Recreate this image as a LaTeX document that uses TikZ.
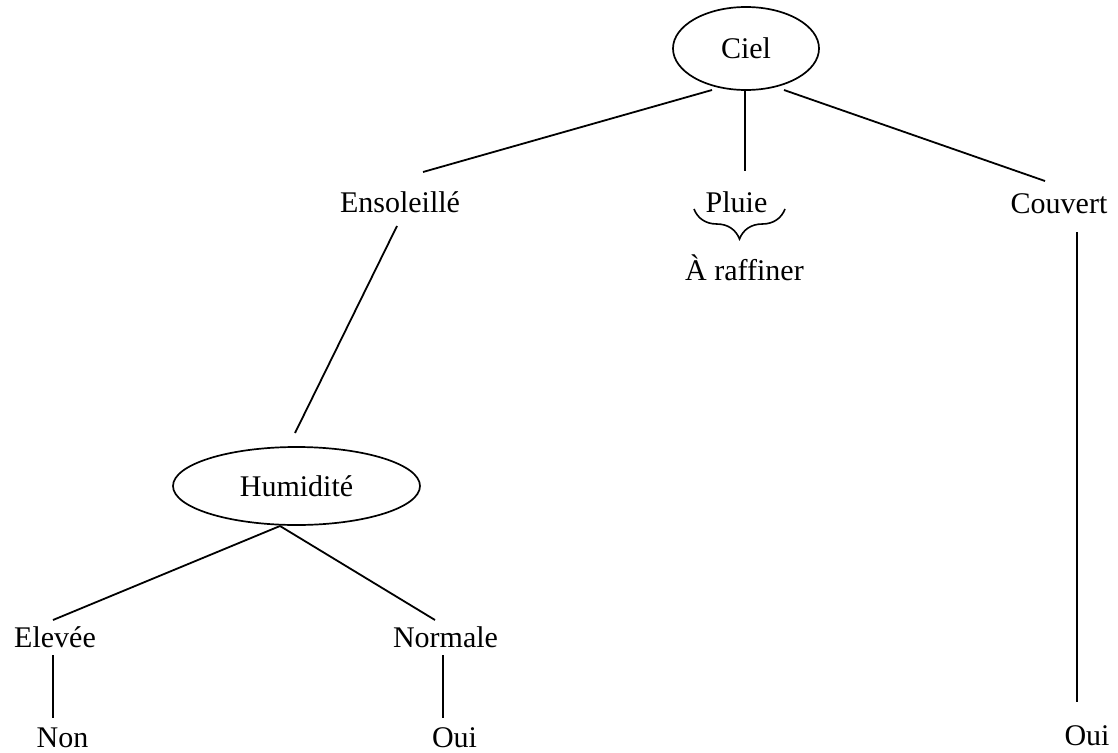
\documentclass[tikz,border=0pt]{standalone}
\usepackage{fontspec}
\setmainfont{Liberation Serif}
\usetikzlibrary{shapes.geometric,decorations.pathreplacing}
\begin{document}
\begin{tikzpicture}[x=1pt,y=-1pt,line width=1.7pt,
  lbl/.style={font=\fontsize{30}{36}\selectfont,inner sep=0pt,anchor=base},
  oval/.style={ellipse,draw,inner sep=0pt,font=\fontsize{30}{36}\selectfont},
  edge/.style={draw,line width=1.8pt}]
\useasboundingbox (0,0) rectangle (1118,752);
% decision nodes
\node[oval,minimum width=146pt,minimum height=83pt] (ciel) at (746,48.5) {Ciel};
\node[oval,minimum width=247pt,minimum height=78pt] (hum) at (296.5,486) {Humidité};
% labels
\node[lbl] (ens) at (400,212) {Ensoleillé};
\node[lbl] (pluie) at (736.5,212) {Pluie};
\node[lbl] (couv) at (1059,213) {Couvert};
\node[lbl] (raff) at (744.5,280) {À raffiner};
\node[lbl] (elev) at (55,647) {Elevée};
\node[lbl] (norm) at (445.5,647) {Normale};
\node[lbl] (non) at (62.5,747) {Non};
\node[lbl] (oui1) at (454.5,747) {Oui};
\node[lbl] (oui2) at (1087,745) {Oui};
% connectors
\path[edge] ([shift={(-34,41.5)}]ciel.center) -- ([shift={(23,-40)}]ens.base);
\path[edge] ([shift={(-1,41.5)}]ciel.center) -- ([shift={(8.5,-41)}]pluie.base);
\path[edge] ([shift={(38,41.5)}]ciel.center) -- ([shift={(-14,-32)}]couv.base);
\path[edge] ([shift={(-3,14)}]ens.base) -- ([shift={(-1.5,-53)}]hum.center);
\path[edge] ([shift={(-16.5,40)}]hum.center) -- ([shift={(-2,-27)}]elev.base);
\path[edge] ([shift={(-16.5,40)}]hum.center) -- ([shift={(-10.5,-27)}]norm.base);
\path[edge] ([shift={(-2,8)}]elev.base) -- ([shift={(-9.5,-29)}]non.base);
\path[edge] ([shift={(-2.5,8)}]norm.base) -- ([shift={(-11.5,-29)}]oui1.base);
\path[edge] ([shift={(18,19)}]couv.base) -- ([shift={(-10,-43)}]oui2.base);
% brace
\draw[line width=1.6pt,decorate,decoration={brace,amplitude=30pt,mirror}]
  ([shift={(-42.5,-3)}]pluie.base) -- ([shift={(48.5,-3)}]pluie.base);
\end{tikzpicture}
\end{document}
